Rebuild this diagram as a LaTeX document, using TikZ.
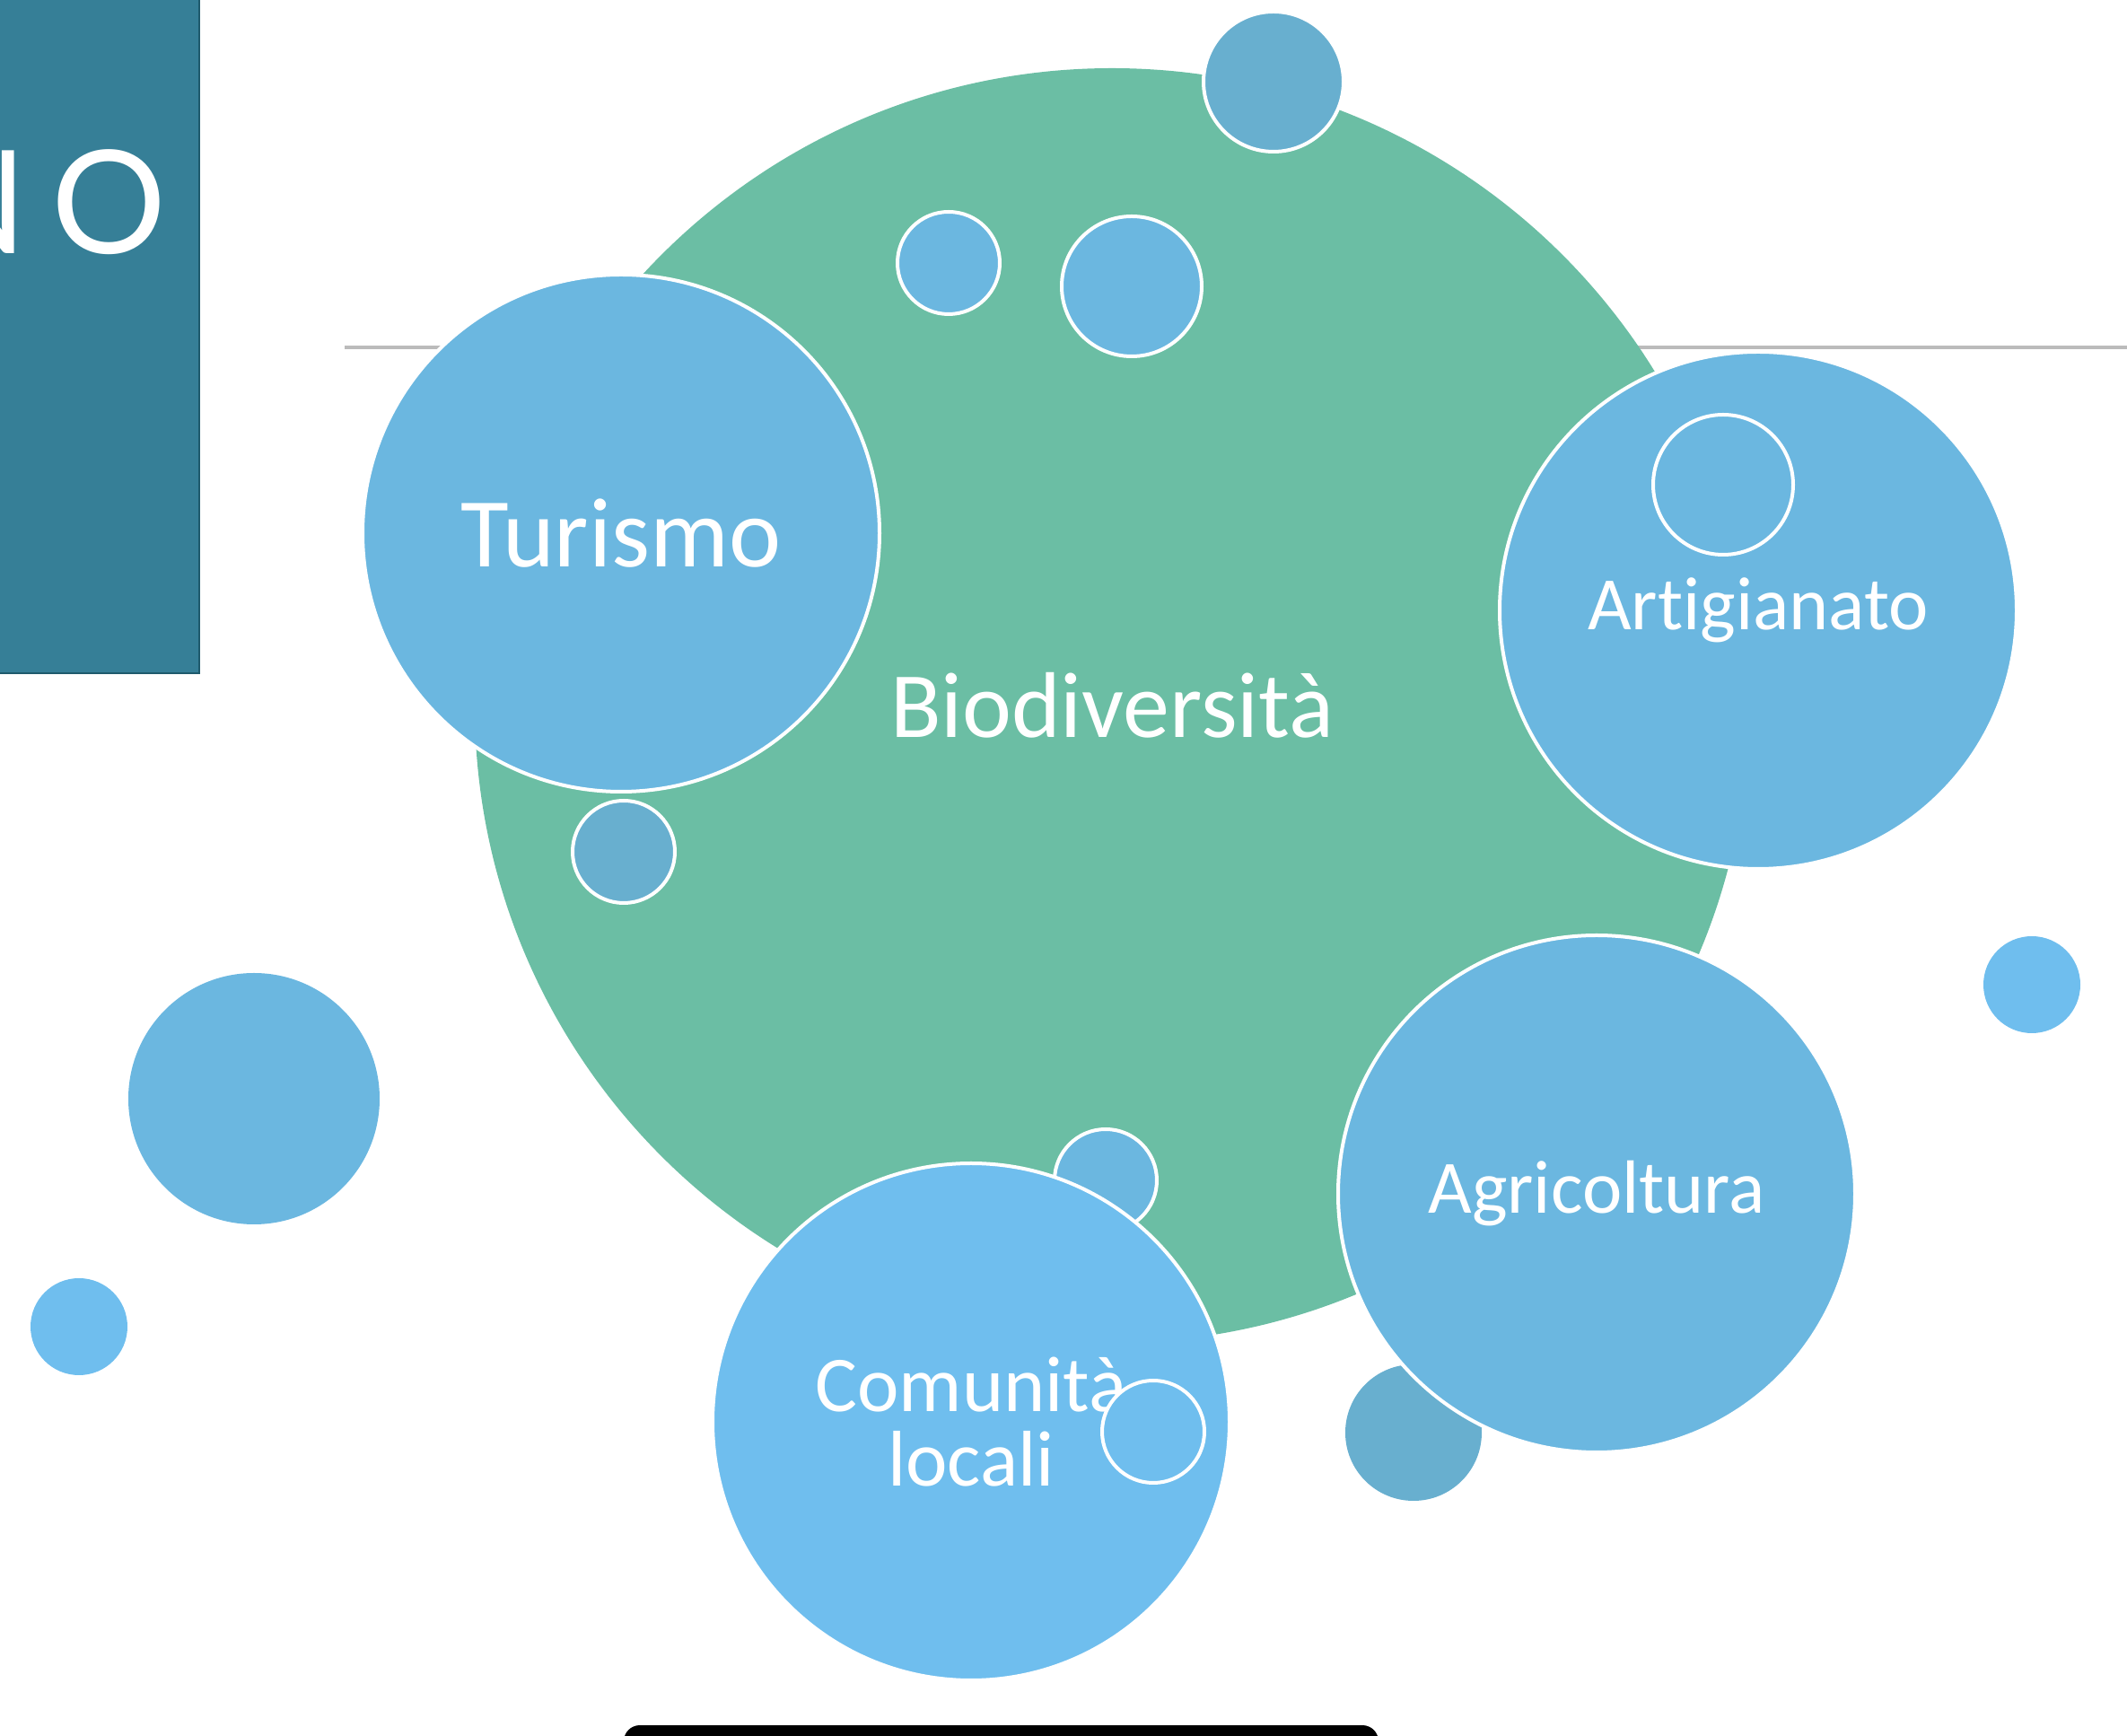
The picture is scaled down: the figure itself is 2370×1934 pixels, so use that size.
\documentclass[tikz,border=0pt]{standalone}
\usepackage{fontspec}
\setmainfont{Carlito}[Ligatures=NoCommon]
\newfontfamily\titlefont{Lato}
\usepackage[dvipsnames]{xcolor}
\usetikzlibrary{positioning}
\definecolor{boxteal}{HTML}{367F97}
\definecolor{boxedge}{HTML}{1F5A6C}
\definecolor{biogreen}{HTML}{6BBEA4}
\definecolor{bubbleblue}{HTML}{6BB7E0}
\definecolor{lightblue}{HTML}{6FBEEE}
\definecolor{darkblue}{HTML}{68AFCF}
\definecolor{rulegray}{HTML}{BBBBBB}

\begin{document}
\begin{tikzpicture}[x=0.25pt,y=-0.25pt,thick,
    bubble/.style={circle,inner sep=0pt,fill=bubbleblue,draw=white,line width=1pt,text=white},
    main node/.style={bubble,minimum size=144pt,align=center},
    dot/.style={bubble,minimum size=28.5pt},
    mid dot/.style={bubble,minimum size=39pt},
    title letter/.style={inner sep=0pt,text=white,font=\titlefont\fontsize{40}{40}\selectfont}]

    \useasboundingbox (0,0) rectangle (2370,1934);

    % title box, cut at the left edge
    \begin{scope}
        \clip (0,0) rectangle (223,751);
        \fill[boxteal] (0,0) rectangle (222,750);
        \draw[boxedge,line width=0.6pt] (222,0) -- (222,750) -- (0,750);
        \node[title letter,anchor=base west] (titleo) at (56,283) {O};
        \node[title letter,left=6pt of titleo.base west,anchor=base east] (titlen) {N};
    \end{scope}

    \draw[rulegray,line width=0.8pt] (384,387) -- (2370,387);

    \node[circle,inner sep=0pt,fill=biogreen,minimum size=355pt,text=white,
          font=\fontsize{26}{26}\selectfont] (bio) at (1239,786) {Biodiversità};

    % small bubbles
    \node[mid dot,fill=darkblue] (top) at (1419,91) {};
    \node[dot] (s1) at (1057,293) {};
    \node[mid dot] (s2) at (1261,319) {};
    \node[dot,fill=darkblue] (s3) at (695,949) {};
    \node[dot] (s4) at (1232,1315) {};
    \node[bubble,draw=none,fill=darkblue,minimum size=38pt] (s5) at (1575,1596) {};
    \node[bubble,draw=none,minimum size=70pt] (left) at (283,1224) {};
    \node[bubble,draw=none,fill=lightblue,minimum size=27pt] (corner) at (88,1478) {};
    \node[bubble,draw=none,fill=lightblue,minimum size=27pt] (right) at (2264,1097) {};

    % the four themes
    \node[main node,font=\fontsize{27.5}{27.5}\selectfont] (turismo) at (692,594) {Turismo};
    \node[main node,font=\fontsize{21}{21}\selectfont] (artig) at (1959,680) {Artigianato};
    \node[main node,font=\fontsize{21}{21}\selectfont] (agri) at (1779,1330) {Agricoltura};
    \node[main node,fill=lightblue,font=\fontsize{22}{20.75}\selectfont] (comun) at (1082,1584) {Comunità\\locali};

    \node[mid dot] (artigin) at (1920,540) {};
    \node[dot,fill=lightblue] (comunin) at (1285,1595) {};

    % bar at the foot
    \coordinate (barl) at (713,1940);
    \coordinate (barr) at (1518,1940);
    \draw[black,line width=9pt,line cap=round] (barl) -- (barr);
\end{tikzpicture}
\end{document}
